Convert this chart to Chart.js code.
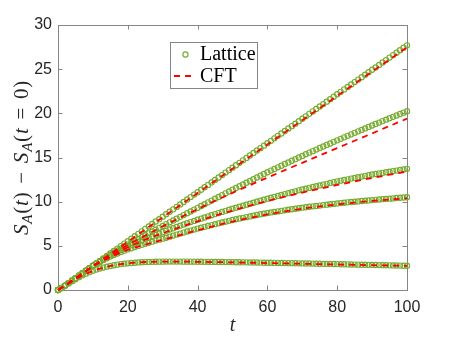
<!DOCTYPE html>
<html>
<head>
<meta charset="utf-8">
<script src="https://cdn.jsdelivr.net/npm/chart.js@4.4.1/dist/chart.umd.min.js"></script>
<style>
  html, body { margin: 0; padding: 0; background: #fff; }
</style>
</head>
<body>
<canvas id="myChart" width="450" height="338"></canvas>
<script>
// lattice sample times and values
const tLattice = [0,1,2,3,4,5,6,7,8,9,10,11,12,13,14,15,16,17,18,19,20,21,22,23,24,25,26,27,28,29,30,
  31,32,33,34,35,36,37,38,39,40,41,42,43,44,45,46,47,48,49,50,51,52,53,54,55,56,57,58,59,60,
  61,62,63,64,65,66,67,68,69,70,71,72,73,74,75,76,77,78,79,80,81,82,83,84,85,86,87,88,89,90,
  91,92,93,94,95,96,97,98,99,100];

const lattice1 = [0,0.23,0.5,0.78,1.06,1.34,1.62,1.9,2.18,2.46,2.74,
  3.02,3.3,3.58,3.86,4.14,4.41,4.69,4.97,5.25,5.53,
  5.81,6.08,6.36,6.64,6.92,7.19,7.47,7.75,8.02,8.3,
  8.58,8.86,9.13,9.41,9.69,9.96,10.24,10.52,10.8,11.07,
  11.35,11.63,11.9,12.18,12.46,12.74,13.01,13.29,13.57,13.85,
  14.12,14.4,14.68,14.95,15.23,15.51,15.79,16.06,16.34,16.62,
  16.89,17.17,17.45,17.72,18.0,18.28,18.55,18.83,19.11,19.39,
  19.66,19.94,20.22,20.49,20.77,21.05,21.32,21.6,21.88,22.16,
  22.43,22.71,22.99,23.26,23.54,23.82,24.09,24.37,24.65,24.93,
  25.2,25.48,25.76,26.03,26.31,26.59,26.86,27.14,27.42,27.7];

const lattice2 = [0,0.23,0.5,0.78,1.06,1.34,1.62,1.9,2.18,2.46,2.74,
  3.0,3.26,3.51,3.76,4.0,4.24,4.47,4.7,4.92,5.14,
  5.36,5.57,5.78,5.99,6.2,6.41,6.62,6.83,7.04,7.25,
  7.46,7.66,7.87,8.07,8.28,8.48,8.69,8.89,9.1,9.3,
  9.51,9.71,9.92,10.12,10.33,10.53,10.74,10.94,11.15,11.35,
  11.55,11.75,11.95,12.14,12.34,12.54,12.74,12.94,13.13,13.33,
  13.52,13.7,13.89,14.07,14.26,14.44,14.63,14.81,15.0,15.18,
  15.37,15.55,15.72,15.9,16.07,16.25,16.42,16.59,16.77,16.94,
  17.11,17.28,17.45,17.62,17.79,17.96,18.12,18.29,18.46,18.62,
  18.79,18.95,19.12,19.28,19.44,19.6,19.76,19.92,20.08,20.24];

const lattice3 = [0,0.23,0.5,0.78,1.06,1.34,1.62,1.9,2.18,2.46,2.74,
  2.99,3.24,3.48,3.7,3.92,4.13,4.33,4.53,4.72,4.9,
  5.08,5.26,5.43,5.6,5.77,5.93,6.09,6.25,6.4,6.55,
  6.7,6.85,6.99,7.14,7.28,7.42,7.56,7.69,7.82,7.95,
  8.08,8.21,8.34,8.46,8.59,8.71,8.84,8.96,9.08,9.2,
  9.31,9.43,9.54,9.65,9.77,9.88,9.99,10.1,10.22,10.33,
  10.44,10.54,10.65,10.75,10.86,10.96,11.07,11.17,11.28,11.38,
  11.47,11.56,11.66,11.75,11.84,11.93,12.02,12.12,12.21,12.3,
  12.38,12.45,12.53,12.61,12.69,12.76,12.84,12.92,12.99,13.07,
  13.13,13.2,13.26,13.33,13.39,13.46,13.52,13.59,13.65,13.72];

const lattice4 = [0,0.23,0.5,0.78,1.06,1.34,1.62,1.9,2.18,2.46,2.74,
  2.96,3.18,3.39,3.59,3.78,3.96,4.13,4.3,4.45,4.6,
  4.73,4.86,4.99,5.11,5.23,5.35,5.47,5.59,5.7,5.81,
  5.92,6.04,6.16,6.27,6.39,6.5,6.62,6.73,6.84,6.95,
  7.05,7.15,7.25,7.35,7.45,7.55,7.64,7.74,7.83,7.93,
  8.01,8.09,8.17,8.25,8.33,8.41,8.49,8.57,8.64,8.72,
  8.78,8.84,8.9,8.96,9.02,9.08,9.14,9.2,9.26,9.32,
  9.37,9.42,9.47,9.51,9.56,9.61,9.66,9.71,9.75,9.8,
  9.84,9.88,9.92,9.96,9.99,10.03,10.07,10.11,10.14,10.18,
  10.21,10.25,10.28,10.31,10.34,10.37,10.41,10.44,10.47,10.5];

const lattice5 = [0,0.22,0.47,0.73,0.98,1.22,1.45,1.66,1.85,2.02,2.17,
  2.31,2.43,2.54,2.64,2.72,2.8,2.87,2.93,2.98,3.02,
  3.06,3.09,3.12,3.14,3.16,3.18,3.19,3.2,3.21,3.21,
  3.22,3.22,3.22,3.22,3.22,3.21,3.21,3.21,3.21,3.2,
  3.2,3.19,3.19,3.18,3.18,3.17,3.17,3.16,3.16,3.15,
  3.14,3.14,3.13,3.13,3.12,3.11,3.11,3.1,3.09,3.09,
  3.08,3.07,3.07,3.06,3.05,3.04,3.04,3.03,3.02,3.01,
  3.0,3.0,2.99,2.98,2.97,2.96,2.95,2.95,2.94,2.93,
  2.92,2.91,2.9,2.89,2.88,2.87,2.86,2.86,2.85,2.84,
  2.83,2.82,2.81,2.8,2.79,2.78,2.77,2.76,2.75,2.74];

// CFT curves
const tCft = [0,2,4,6,8,10,12,14,16,18,20,25,30,35,40,45,50,55,60,65,70,75,80,85,90,95,100];
const cft1 = [0,0.5,1.05,1.6,2.16,2.72,3.27,3.82,4.37,4.92,5.47,6.85,8.22,9.6,10.97,12.35,13.72,15.1,16.47,17.85,19.22,20.6,21.97,23.35,24.72,26.1,27.47];
const cft2 = [0,0.5,1.05,1.6,2.16,2.7,3.22,3.72,4.2,4.66,5.1,6.17,7.2,8.2,9.15,10.1,11.0,11.87,12.72,13.57,14.4,15.24,16.07,16.9,17.73,18.57,19.4];
const cft3 = [0,0.5,1.05,1.6,2.15,2.68,3.18,3.64,4.06,4.46,4.84,5.7,6.43,7.12,7.78,8.4,8.99,9.54,10.06,10.56,11.03,11.47,11.89,12.29,12.68,13.05,13.42];
const cft4 = [0,0.5,1.05,1.6,2.15,2.67,3.12,3.52,3.89,4.23,4.54,5.14,5.67,6.22,6.76,7.27,7.75,8.17,8.56,8.9,9.2,9.46,9.69,9.9,10.08,10.24,10.39];
const cft5 = [0,0.46,0.96,1.43,1.83,2.15,2.41,2.62,2.79,2.92,3.02,3.17,3.21,3.21,3.19,3.16,3.13,3.09,3.05,3.01,2.97,2.93,2.89,2.85,2.81,2.77,2.73];

const xTicks = [0, 20, 40, 60, 80, 100];
const yTicks = [0, 5, 10, 15, 20, 25, 30];
const legendLabels = ["Lattice", "CFT"];

const latticeColor = "#77AC30";
const cftColor = "#FF0000";
const axisColor = "#858585";
const textColor = "#262626";

const toPoints = (xs, ys) => xs.map((x, i) => ({ x: x, y: ys[i] }));

const latticeSets = [lattice1, lattice2, lattice3, lattice4, lattice5].map((ys) => ({
  label: legendLabels[0],
  data: toPoints(tLattice, ys),
  showLine: false,
  pointStyle: "circle",
  pointRadius: 2.6,
  pointBorderWidth: 1.15,
  pointBorderColor: latticeColor,
  pointBackgroundColor: "rgba(0,0,0,0)",
  borderColor: latticeColor,
  clip: false,
  order: 2,
}));

const cftSets = [cft1, cft2, cft3, cft4, cft5].map((ys) => ({
  label: legendLabels[1],
  data: toPoints(tCft, ys),
  borderColor: cftColor,
  borderWidth: 1.8,
  borderDash: [6, 5],
  pointRadius: 0,
  cubicInterpolationMode: "monotone",
  fill: false,
  clip: false,
  order: 1,
}));

// box with inward ticks on all four sides
const framePlugin = {
  id: "frame",
  beforeDatasetsDraw(chart) {
    const { ctx, chartArea } = chart;
    const { left, right, top, bottom } = chartArea;
    const xs = chart.scales.x;
    const ys = chart.scales.y;
    const len = 4.5;
    ctx.save();
    ctx.strokeStyle = axisColor;
    ctx.lineWidth = 1;
    ctx.strokeRect(Math.round(left) + 0.5, Math.round(top) + 0.5,
      Math.round(right) - Math.round(left), Math.round(bottom) - Math.round(top));
    ctx.beginPath();
    xTicks.forEach((v) => {
      const px = Math.round(xs.getPixelForValue(v)) + 0.5;
      ctx.moveTo(px, bottom);
      ctx.lineTo(px, bottom - len);
      ctx.moveTo(px, top);
      ctx.lineTo(px, top + len);
    });
    yTicks.forEach((v) => {
      const py = Math.round(ys.getPixelForValue(v)) + 0.5;
      ctx.moveTo(left, py);
      ctx.lineTo(left + len, py);
      ctx.moveTo(right, py);
      ctx.lineTo(right - len, py);
    });
    ctx.stroke();
    ctx.restore();
  },
  afterDraw(chart) {
    const { ctx, chartArea } = chart;
    ctx.save();

    // y axis title: S_A(t) - S_A(t = 0)
    const size = 21;
    const it = `italic ${size}px "Liberation Serif"`;
    const rm = `${size}px "Liberation Serif"`;
    const sub = `italic ${Math.round(size * 0.7)}px "Liberation Serif"`;
    const parts = [
      ["S", it, 0], ["A", sub, 4], ["(", rm, 0], ["t", it, 0], [")", rm, 0], [null],
      ["\u2212", rm, 0], [null],
      ["S", it, 0], ["A", sub, 4], ["(", rm, 0], ["t", it, 0], [null],
      ["=", rm, 0], [null], ["0", rm, 0], [")", rm, 0],
    ];
    let natural = 0;
    parts.forEach((p) => {
      if (p[0] === null) return;
      ctx.font = p[1];
      p.push(ctx.measureText(p[0]).width + 0.8);
      natural += p[3];
    });
    const target = 155;
    const gap = Math.max(3, (target - natural) / 4);
    const total = natural + gap * 4;
    ctx.translate(28, 157.5);
    ctx.rotate(-Math.PI / 2);
    ctx.fillStyle = textColor;
    ctx.textBaseline = "alphabetic";
    let cx = -total / 2;
    parts.forEach((p) => {
      if (p[0] === null) { cx += gap; return; }
      ctx.font = p[1];
      ctx.fillText(p[0], cx, p[2]);
      cx += p[3];
    });
    ctx.setTransform(1, 0, 0, 1, 0, 0);

    // legend
    const bx = 170.5, by = 42.5, bw = 87, bh = 46;
    ctx.fillStyle = "#ffffff";
    ctx.fillRect(bx, by, bw, bh);
    ctx.strokeStyle = axisColor;
    ctx.lineWidth = 1;
    ctx.strokeRect(bx, by, bw, bh);

    ctx.beginPath();
    ctx.arc(185.5, 54.5, 2.6, 0, Math.PI * 2);
    ctx.lineWidth = 1.15;
    ctx.strokeStyle = latticeColor;
    ctx.stroke();

    ctx.beginPath();
    ctx.setLineDash([6, 5]);
    ctx.lineWidth = 1.8;
    ctx.strokeStyle = cftColor;
    ctx.moveTo(174, 76);
    ctx.lineTo(193, 76);
    ctx.stroke();
    ctx.setLineDash([]);

    ctx.fillStyle = "#000000";
    ctx.font = `20px "Liberation Serif"`;
    ctx.textBaseline = "alphabetic";
    ctx.fillText(legendLabels[0], 200, 60);
    ctx.fillText(legendLabels[1], 200, 82);
    ctx.restore();
  },
};

const ctx = document.getElementById("myChart").getContext("2d");

new Chart(ctx, {
  type: "line",
  data: { datasets: [...cftSets, ...latticeSets] },
  options: {
    responsive: false,
    animation: false,
    devicePixelRatio: 1,
    layout: { padding: { top: 25, right: 43, left: 0, bottom: 0 } },
    plugins: {
      legend: { display: false },
      tooltip: { enabled: false },
    },
    scales: {
      x: {
        type: "linear",
        min: 0,
        max: 100,
        afterBuildTicks: (scale) => { scale.ticks = xTicks.map((v) => ({ value: v })); },
        afterFit: (scale) => { scale.height = 48; },
        grid: { display: false, drawTicks: false },
        border: { display: false },
        ticks: {
          color: textColor,
          padding: 8,
          maxRotation: 0,
          font: { family: "Liberation Sans", size: 16 },
        },
        title: {
          display: true,
          text: "t",
          color: textColor,
          padding: 0,
          font: { family: "Liberation Serif", style: "italic", size: 20 },
        },
      },
      y: {
        type: "linear",
        min: 0,
        max: 30,
        afterBuildTicks: (scale) => { scale.ticks = yTicks.map((v) => ({ value: v })); },
        afterFit: (scale) => { scale.width = 58; },
        grid: { display: false, drawTicks: false },
        border: { display: false },
        ticks: {
          color: textColor,
          padding: 6,
          font: { family: "Liberation Sans", size: 16 },
        },
      },
    },
  },
  plugins: [framePlugin],
});
</script>
</body>
</html>
